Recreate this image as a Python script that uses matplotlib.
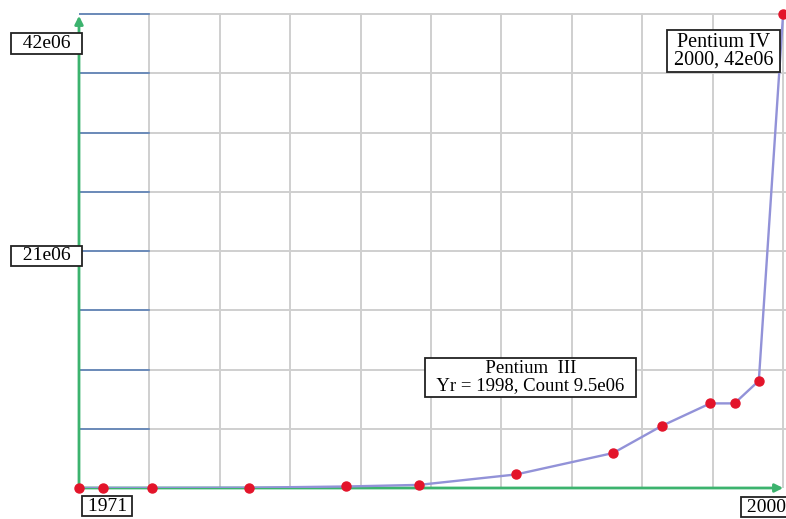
import numpy as np
import matplotlib
matplotlib.use('Agg')
import matplotlib.pyplot as plt

# transistor counts of intel chips
years = [1971, 1972, 1974, 1978, 1982, 1985, 1989, 1993, 1995, 1997, 1998, 1999, 2000]
counts = [2300, 3500, 4500, 29000, 134000, 275000, 1.2e6, 3.1e6, 5.5e6, 7.5e6, 7.5e6, 9.5e6, 42e6]

y_labels = ['21e06', '42e06']
y_label_vals = [21e6, 42e6]
x_labels = ['1971', '2000']
note_iii = 'Pentium  III\nYr = 1998, Count 9.5e06'
note_iv = 'Pentium IV\n2000, 42e06'

plt.rcParams['font.family'] = ['Liberation Serif', 'DejaVu Serif']

fig = plt.figure(figsize=(7.86, 5.19), dpi=100)
ax = fig.add_axes([79 / 786, 31 / 519, 707 / 786, 475 / 519])
ax.set_xlim(1971, 2000.12)
ax.set_ylim(0, 42.1e6)
for s in ax.spines.values():
    s.set_visible(False)
ax.set_xticks([])
ax.set_yticks([])

# grid
xstep = (2000 - 1971) / 10
for k in range(1, 11):
    ax.axvline(1971 + k * xstep, color='#cfcfcf', lw=1.4, zorder=1)
for k in range(1, 9):
    ax.axhline(k * 5.25e6, color='#cfcfcf', lw=1.4, zorder=1)
    ax.plot([1971, 1971 + xstep], [k * 5.25e6] * 2, color='#5a7fb5', lw=1.2, zorder=2)

# axes in green with arrows
ax.annotate('', xy=(1971, 42.1e6), xytext=(1971, 0),
            arrowprops=dict(arrowstyle='-|>', color='#3cb36e', lw=2, mutation_scale=12),
            zorder=3, annotation_clip=False)
ax.annotate('', xy=(2000.12, 0), xytext=(1971, 0),
            arrowprops=dict(arrowstyle='-|>', color='#3cb36e', lw=2, mutation_scale=12),
            zorder=3, annotation_clip=False)

ax.plot(years, counts, color='#9292d8', lw=1.7, zorder=4)
ax.plot(years, counts, 'o', color='#e3142a', ms=6.5, zorder=5, clip_on=False)

sp = '\u2002'
tsp = '\u2009'
box = dict(boxstyle='square,pad=0.08', fc='white', ec='#222222', lw=1.3)
for lab, v in zip(y_labels, y_label_vals):
    yy = 39.4e6 if v == 42e6 else 20.6e6
    ax.text(1971.04, yy, sp + lab + sp, ha='right', va='center', fontsize=14,
            bbox=box, clip_on=False)
ax.text(1971.2, -0.85e6, tsp + x_labels[0] + tsp, ha='left', va='top', fontsize=14,
        bbox=box, clip_on=False)
ax.text(2000.1, -0.95e6, tsp + x_labels[1], ha='right', va='top', fontsize=14,
        bbox=box, clip_on=False)

box2 = dict(boxstyle='square,pad=0.12', fc='white', ec='#222222', lw=1.3)
ax.text(1989.6, 9.8e6, sp + note_iii.replace('\n', sp + '\n' + sp) + sp,
        ha='center', va='center', fontsize=13.5, linespacing=1.0, bbox=box2, zorder=6)
ax.text(1997.55, 38.7e6, tsp + note_iv.replace('\n', tsp + '\n' + tsp) + tsp,
        ha='center', va='center', fontsize=14.5,
        linespacing=0.95, bbox=box2, zorder=6, clip_on=False)

fig.savefig('out.png', dpi=100)
